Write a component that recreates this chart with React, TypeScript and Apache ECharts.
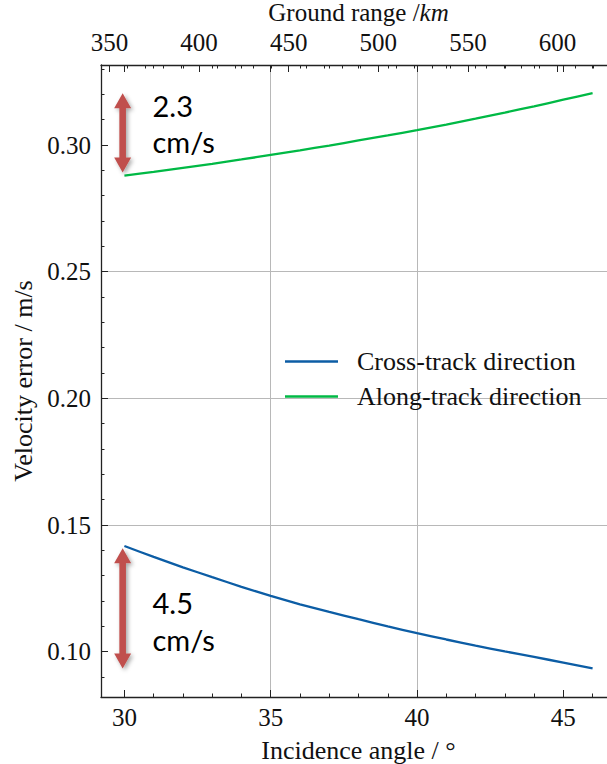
import React, { useEffect, useRef } from 'react';
import * as echarts from 'echarts';

// ---- data ----
const incidenceAngles = [30, 31, 32, 33, 34, 35, 36, 37, 38, 39, 40, 41, 42, 43, 44, 45, 46];
const crossTrack = [0.1417, 0.1374, 0.1333, 0.1294, 0.1256, 0.1220, 0.1187, 0.1157, 0.1128, 0.1100, 0.1073, 0.1048, 0.1024, 0.1001, 0.0979, 0.0957, 0.0934];
const alongTrack = [0.2879, 0.2894, 0.2910, 0.2926, 0.2943, 0.2961, 0.2979, 0.2998, 0.3018, 0.3038, 0.3059, 0.3081, 0.3104, 0.3128, 0.3153, 0.3179, 0.3205];

const angleMajorTicks = [30, 35, 40, 45];
const angleMinorTicks = [31, 32, 33, 34, 36, 37, 38, 39, 41, 42, 43, 44, 46];
const rangeMajorTicks = [350, 400, 450, 500, 550, 600];
const rangeMinorTicks = [360, 370, 380, 390, 410, 420, 430, 440, 460, 470, 480, 490, 510, 520, 530, 540, 560, 570, 580, 590, 610, 620, 630];
const velocityMajorTicks = [0.10, 0.15, 0.20, 0.25, 0.30];
const velocityMinorTicks = [0.09, 0.11, 0.12, 0.13, 0.14, 0.16, 0.17, 0.18, 0.19, 0.21, 0.22, 0.23, 0.24, 0.26, 0.27, 0.28, 0.29, 0.31, 0.32, 0.33];

const seriesNames = ['Cross-track direction', 'Along-track direction'];

// annotation arrows: [angle, top value, bottom value]
const arrowAngle = 29.94;
const arrowTops = [0.3204, 0.1408];
const arrowBottoms = [0.2892, 0.0934];
const annotationLines = [['2.3', 'cm/s'], ['4.5', 'cm/s']];
const annotationAngle = 30.96;
const annotationBaselines = [[0.3100, 0.2958], [0.1136, 0.0991]];

const SERIF = '"Liberation Serif", "Times New Roman", serif';
const SANS = 'Lato, "Open Sans", sans-serif';
const AXIS_COLOR = '#222';
const GRID_COLOR = '#b8b8b8';

function tickOnlyAxis(extra: any, values: number[], len: number) {
  return {
    type: 'value',
    offset: 0,
    ...extra,
    axisLine: { show: false, onZero: false },
    axisTick: { show: true, inside: true, length: len, customValues: values, lineStyle: { color: AXIS_COLOR, width: 1 } },
    axisLabel: { show: false },
    splitLine: { show: false },
    splitArea: { show: false },
  };
}

export default function App() {
  const ref = useRef<HTMLDivElement>(null);
  useEffect(() => {
    if (!ref.current) return;
    const chart = echarts.init(ref.current, undefined, { renderer: 'svg' });
    const xMin = 29.2, xMax = 46.8;
    const yMin = 0.0821, yMax = 0.3316;
    const rMin = 345.26, rMax = 632.6;
    const option: any = {
      animation: false,
      backgroundColor: '#fff',
      grid: { left: 101, top: 65, bottom: 67, right: 9, containLabel: false, outerBoundsMode: 'none', show: false },
      legend: {
        orient: 'vertical',
        left: 285,
        top: 344,
        padding: 0,
        itemGap: 0,
        itemWidth: 53,
        itemHeight: 2.5,
        icon: 'rect',
        data: seriesNames,
        textStyle: { fontFamily: SERIF, fontSize: 26, color: '#111', lineHeight: 35, padding: [0, 0, 0, 14] },
      },
      xAxis: [
        {
          type: 'value', position: 'bottom', min: xMin, max: xMax,
          axisLine: { show: true, onZero: false, lineStyle: { color: AXIS_COLOR, width: 1.3 } },
          axisTick: { show: true, inside: true, length: 7, customValues: angleMajorTicks, lineStyle: { color: AXIS_COLOR, width: 1 } },
          axisLabel: { customValues: angleMajorTicks, margin: 8, fontFamily: SERIF, fontSize: 25, color: '#111' },
          splitLine: { show: true, showMinLine: false, showMaxLine: false, lineStyle: { color: GRID_COLOR, width: 1 } },
          name: 'Incidence angle / °', nameLocation: 'middle', nameGap: 40,
          nameTextStyle: { fontFamily: SERIF, fontSize: 26, color: '#111' },
        },
        tickOnlyAxis({ position: 'bottom', min: xMin, max: xMax }, angleMinorTicks, 3.5),
        tickOnlyAxis({ position: 'top', min: xMin, max: xMax }, angleMajorTicks, 7),
        tickOnlyAxis({ position: 'top', min: xMin, max: xMax }, angleMinorTicks, 3.5),
        {
          type: 'value', position: 'top', min: rMin, max: rMax,
          axisLine: { show: true, onZero: false, lineStyle: { color: AXIS_COLOR, width: 1.3 } },
          axisTick: { show: true, inside: true, length: 7, customValues: rangeMajorTicks, lineStyle: { color: AXIS_COLOR, width: 1 } },
          axisLabel: { customValues: rangeMajorTicks, margin: 10, fontFamily: SERIF, fontSize: 25, color: '#111' },
          splitLine: { show: false },
          name: 'Ground range /{i|km}', nameLocation: 'middle', nameGap: 37,
          nameTextStyle: {
            fontFamily: SERIF, fontSize: 25, lineHeight: 25, color: '#111',
            rich: { i: { fontFamily: SERIF, fontSize: 25, lineHeight: 25, fontStyle: 'italic', color: '#111' } },
          },
        },
        tickOnlyAxis({ position: 'top', min: rMin, max: rMax }, rangeMinorTicks, 3.5),
      ],
      yAxis: [
        {
          type: 'value', position: 'left', min: yMin, max: yMax,
          axisLine: { show: true, onZero: false, lineStyle: { color: AXIS_COLOR, width: 1.3 } },
          axisTick: { show: true, inside: true, length: 7, customValues: velocityMajorTicks, lineStyle: { color: AXIS_COLOR, width: 1 } },
          axisLabel: { customValues: velocityMajorTicks, margin: 10, fontFamily: SERIF, fontSize: 25, color: '#111', formatter: (v: number) => v.toFixed(2) },
          splitLine: { show: true, showMinLine: false, showMaxLine: false, lineStyle: { color: GRID_COLOR, width: 1 } },
          name: 'Velocity error / m/s', nameLocation: 'middle', nameGap: 64,
          nameTextStyle: { fontFamily: SERIF, fontSize: 26, color: '#111' },
        },
        tickOnlyAxis({ position: 'left', min: yMin, max: yMax }, velocityMinorTicks, 3.5),
      ],
      series: [
        {
          name: seriesNames[0], type: 'line', xAxisIndex: 0, yAxisIndex: 0,
          data: incidenceAngles.map((a, i) => [a, crossTrack[i]]),
          showSymbol: false, symbol: 'none', smooth: 0.2,
          color: '#0C5DA5', lineStyle: { color: '#0C5DA5', width: 2.3 }, z: 3,
        },
        {
          name: seriesNames[1], type: 'line', xAxisIndex: 0, yAxisIndex: 0,
          data: incidenceAngles.map((a, i) => [a, alongTrack[i]]),
          showSymbol: false, symbol: 'none', smooth: 0.2,
          color: '#00B945', lineStyle: { color: '#00B945', width: 2.3 }, z: 3,
        },
      ],
    };
    chart.setOption(option);

    const px = (a: number, v: number) => chart.convertToPixel({ xAxisIndex: 0, yAxisIndex: 0 }, [a, v]) as number[];
    const graphics: any[] = [];
    arrowTops.forEach((topV, k) => {
      const [x, yT] = px(arrowAngle, topV);
      const [, yB] = px(arrowAngle, arrowBottoms[k]);
      const sw = 3.3, hw = 8.5, hl = 15;
      graphics.push({
        type: 'polygon',
        z: 100,
        shape: {
          points: [
            [x, yT], [x + hw, yT + hl], [x + sw, yT + hl], [x + sw, yB - hl], [x + hw, yB - hl],
            [x, yB], [x - hw, yB - hl], [x - sw, yB - hl], [x - sw, yT + hl], [x - hw, yT + hl],
          ],
        },
        style: { fill: '#C0504D', shadowBlur: 4, shadowColor: 'rgba(0,0,0,0.35)', shadowOffsetX: 2, shadowOffsetY: 2 },
      });
      annotationLines[k].forEach((txt, j) => {
        const [tx, ty] = px(annotationAngle, annotationBaselines[k][j]);
        graphics.push({
          type: 'text', z: 100, x: tx, y: ty,
          style: { text: txt, fontFamily: SANS, fontSize: 29, fill: '#000', align: 'left', verticalAlign: 'bottom' },
        });
      });
    });
    chart.setOption({ graphic: graphics });

    return () => chart.dispose();
  }, []);
  return (
    <div style={{ position: 'absolute', left: 0, top: 0, width: 607, height: 764, overflow: 'hidden', background: '#fff' }}>
      <div ref={ref} style={{ position: 'absolute', left: 0, top: 0, width: 625, height: 764 }} />
    </div>
  );
}
